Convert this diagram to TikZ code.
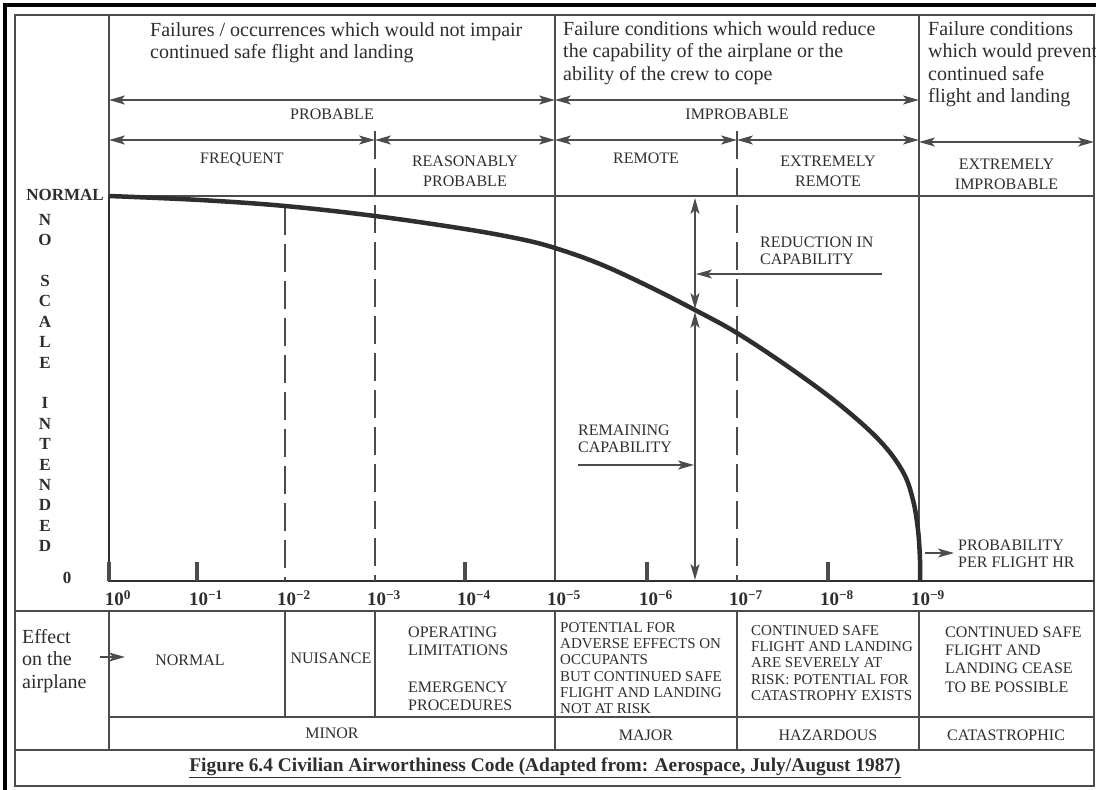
\documentclass[tikz,border=0pt]{standalone}
\usepackage{fontspec}
\setmainfont{Liberation Serif}
\usetikzlibrary{arrows.meta}
\colorlet{inkColor}{black!82}
\colorlet{ruleColor}{black!70}
\colorlet{paperColor}{white}

\begin{document}
\begin{tikzpicture}[x=1pt,y=-1pt,
  ruleline/.style={draw=ruleColor,line width=1.8pt},
  gapline/.style={draw=ruleColor,line width=2.6pt,dash pattern=on 28pt off 9pt},
  spanarrow/.style={draw=ruleColor,line width=1.5pt,{Stealth[length=16pt,width=9pt,inset=4pt]}-{Stealth[length=16pt,width=9pt,inset=4pt]}},
  pointarrow/.style={draw=ruleColor,line width=1.5pt,-{Stealth[length=16pt,width=9pt,inset=4pt]}},
  headtext/.style={inkColor,font=\fontsize{20}{22.5}\selectfont,align=left,anchor=north west,inner sep=0pt},
  capstext/.style={inkColor,font=\fontsize{16}{20.5}\selectfont,align=center,inner sep=0pt},
  notetext/.style={inkColor,font=\fontsize{16}{17.5}\selectfont,align=left,anchor=north west,inner sep=0pt},
  smalltext/.style={inkColor,font=\fontsize{15}{16.3}\selectfont,align=left,anchor=north west,inner sep=0pt},
  boldtext/.style={inkColor,font=\bfseries\fontsize{17}{20.4}\selectfont,inner sep=0pt},
  ticklabel/.style={inkColor,font=\bfseries\fontsize{19}{19}\selectfont}]
\useasboundingbox[fill=paperColor] (0,0) rectangle (1096,790);

% frames and rules
\draw[black,line width=4pt] (5,790) -- (5,5) -- (1096,5);
\draw[ruleColor,line width=1.8pt] (15,15) rectangle (1094,786);
\path[ruleline]
    (555,15) -- (555,581) (555,611) -- (555,750)
    (919,15) -- (919,581) (919,611) -- (919,750)
    (109,15) -- (109,196) (109,611) -- (109,750)
    (109,196) -- (1094,196)
    (15,611) -- (1094,611)
    (109,717) -- (1094,717)
    (15,750) -- (1094,750)
    (285,611) -- (285,717) (375,611) -- (375,717)
    (737,611) -- (737,750);
\draw[inkColor,line width=2.6pt] (109,196) -- (109,581) -- (1094,581);
\path[gapline] (285,207) -- (285,581) (375,131) -- (375,581) (737,131) -- (737,581);
\foreach \x in {109,197,465,647,828}
  \draw[ruleColor,line width=4pt] (\x,562) -- (\x,581);
\foreach \x/\e [count=\i] in {109/0,197/−1,285/−2,375/−3,465/−4,555/−5,647/−6,737/−7,828/−8,919/−9}
  \node[ticklabel] (dec\i) at (\x+9,598) {10\textsuperscript{\e}};

% probability bands
\node[headtext] (minorHead) at (150,22) {Failures / occurrences which would not impair\\continued safe flight and landing};
\node[headtext] (majorHead) at (563,21) {Failure conditions which would reduce\\the capability of the airplane or the\\ability of the crew to cope};
\node[headtext] (catHead) at (928,21) {Failure conditions\\which would prevent\\continued safe\\flight and landing};
\draw[spanarrow] (109,100) -- node[capstext,below=8pt] (probable) {PROBABLE} (555,100);
\draw[spanarrow] (555,100) -- node[capstext,below=8pt] (improbable) {IMPROBABLE} (919,100);
\draw[spanarrow] (109,140) -- node[capstext,below=12pt] (frequent) {FREQUENT} (375,140);
\draw[spanarrow] (375,140) -- node[capstext,below=15pt] (reasonably) {REASONABLY\\PROBABLE} (555,140);
\draw[spanarrow] (555,140) -- node[capstext,below=12pt] (remote) {REMOTE} (737,140);
\draw[spanarrow] (737,140) -- node[capstext,below=15pt] (extRemote) {EXTREMELY\\REMOTE} (919,140);
\draw[spanarrow] (919,142) -- node[capstext,below=16pt] (extImprobable) {EXTREMELY\\IMPROBABLE} (1094,142);

% capability curve
\node[boldtext,anchor=east] (normal) at (104,195) {NORMAL};
\node[boldtext] (zero) at (67,578) {0};
\node[boldtext,align=center,anchor=north] (noScale) at (45,214) {N\\O\\[20.4pt]S\\C\\A\\L\\E\\[20.4pt]I\\N\\T\\E\\N\\D\\E\\D};
\draw[inkColor,line width=4.5pt] plot[smooth,tension=0.6] coordinates {(109,196) (200,200) (285,206) (375,216) (465,229) (520,239) (555,248) (600,264) (650,287) (695,310) (737,333) (790,368) (840,405) (880,441) (903,472) (913,500) (918,530) (920,560) (920,581)};
\draw[spanarrow] (695,198) -- (695,309);
\draw[spanarrow] (695,312) -- (695,580);
\node[notetext] (reduction) at (760,236.5) {REDUCTION IN\\CAPABILITY};
\draw[pointarrow] (882,274) -- (696,274);
\node[notetext] (remaining) at (578,424.5) {REMAINING\\CAPABILITY};
\draw[pointarrow] (578,465) -- (694,465);
\node[notetext] (perHour) at (958,539.5) {PROBABILITY\\PER FLIGHT HR};
\draw[pointarrow] (925,553) -- (954,553);

% effect on the airplane
\node[headtext] (effect) at (22,629) {Effect\\on the\\airplane};
\draw[pointarrow] (100,657) -- (125,657);
\node[capstext] (normalCell) at (190,660) {NORMAL};
\node[capstext] (nuisance) at (331,658) {NUISANCE};
\node[notetext] (limits) at (408,626.7) {OPERATING\\LIMITATIONS};
\node[notetext] (emergency) at (408,681.7) {EMERGENCY\\PROCEDURES};
\node[smalltext] (majorCell) at (560,622) {POTENTIAL FOR\\ADVERSE EFFECTS ON\\OCCUPANTS\\BUT CONTINUED SAFE\\FLIGHT AND LANDING\\NOT AT RISK};
\node[smalltext] (hazardCell) at (751,625) {CONTINUED SAFE\\FLIGHT AND LANDING\\ARE SEVERELY AT\\RISK: POTENTIAL FOR\\CATASTROPHY EXISTS};
\node[notetext,font=\fontsize{16}{18.3}\selectfont] (catCell) at (945,626.5) {CONTINUED SAFE\\FLIGHT AND\\LANDING CEASE\\TO BE POSSIBLE};
\node[capstext] (minor) at (332,733) {MINOR};
\node[capstext] (major) at (646,735) {MAJOR};
\node[capstext] (hazardous) at (828,735) {HAZARDOUS};
\node[capstext] (catastrophic) at (1006,735) {CATASTROPHIC};
\node[inkColor,font=\bfseries\fontsize{19.4}{19.4}\selectfont] (caption) at (545,768)
  {\underline{Figure 6.4 Civilian Airworthiness Code (Adapted from: Aerospace, July/August 1987)}};
\end{tikzpicture}
\end{document}
